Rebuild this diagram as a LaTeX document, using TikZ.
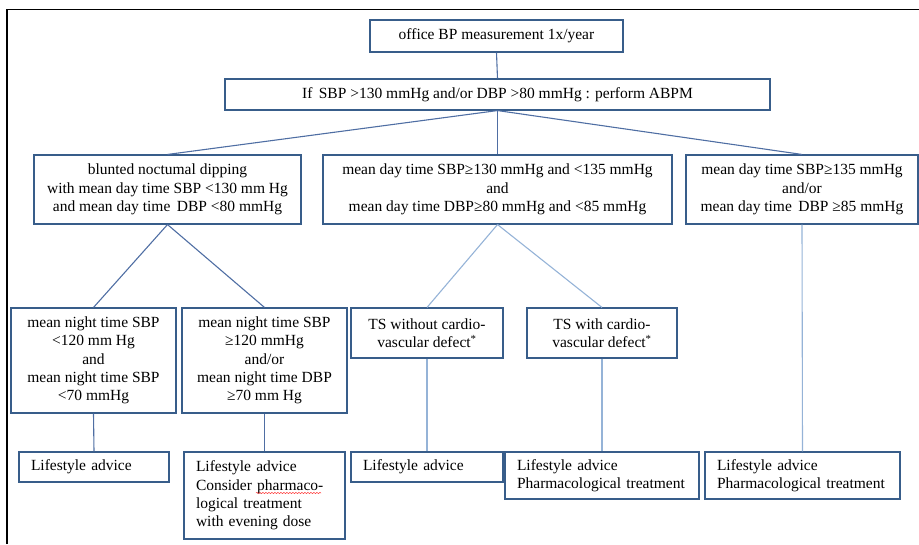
\documentclass[tikz,border=0pt]{standalone}
\usepackage{fontspec}
\setmainfont{Liberation Serif}
\usetikzlibrary{decorations.pathmorphing}
\definecolor{boxline}{HTML}{385D8A}
\definecolor{darkcon}{HTML}{4F6EA3}
\definecolor{lightcon}{HTML}{95B3D7}
\tikzset{
  box/.style={draw=boxline, line width=1.1pt, fill=white, inner sep=0pt, align=center,
    font=\fontsize{15.5}{18.3}\selectfont},
  leftbox/.style={box, align=left, inner xsep=12pt},
  dcon/.style={draw=darkcon, line width=1.1pt},
  lcon/.style={draw=lightcon, line width=1.1pt},
}
\begin{document}
\begin{tikzpicture}[x=1pt,y=-1pt]
\useasboundingbox (0,0) rectangle (919,544);
\draw[black, line width=1.8pt] (7,544) -- (7,9.5) -- (919,9.5);

\node[box, minimum width=253, minimum height=32] (top) at (496.5,36) {office BP measurement 1x/year};
\node[box, minimum width=545, minimum height=31] (abpm) at (497.5,94.5) {If\, SBP >130 mmHg and/or DBP >80 mmHg : perform ABPM};

\node[box, minimum width=267, minimum height=69] (blunt) at (167.5,189.5)
  {blunted noctumal dipping\\with mean day time SBP <130 mm Hg\\and mean day time\, DBP <80 mmHg};
\node[box, minimum width=349, minimum height=69] (mid) at (497.5,189.5)
  {mean day time SBP≥130 mmHg and <135 mmHg\\and\\mean day time DBP≥80 mmHg and <85 mmHg};
\node[box, minimum width=232, minimum height=69] (high) at (802,189.5)
  {mean day time SBP≥135 mmHg\\and/or\\mean day time\, DBP ≥85 mmHg};

\node[box, minimum width=165, minimum height=105] (nlow) at (93.5,360.5)
  {mean night time SBP\\<120 mm Hg\\and\\mean night time SBP\\<70 mmHg};
\node[box, minimum width=165, minimum height=105] (nhigh) at (264.5,360.5)
  {mean night time SBP\\≥120 mmHg\\and/or\\mean night time DBP\\≥70 mm Hg};
\node[box, minimum width=152, minimum height=50] (tsno) at (427,333)
  {TS without cardio-\\vascular defect\textsuperscript{*}};
\node[box, minimum width=150, minimum height=50] (tsyes) at (602,333)
  {TS with cardio-\\vascular defect\textsuperscript{*}};

\node[leftbox, text width=126, minimum height=30] (la) at (94,467) {Lifestyle advice};
\node[leftbox, text width=137, minimum height=87] (lb) at (264.5,495.5)
  {Lifestyle advice\\Consider pharmaco-\\logical treatment\\with evening dose};
\node[leftbox, text width=128, minimum height=30] (lc) at (427,467) {Lifestyle advice};
\node[leftbox, text width=170, minimum height=47] (ld) at (602,475.5)
  {Lifestyle advice\\Pharmacological treatment};
\node[leftbox, text width=171, minimum height=47] (le) at (802.5,475.5)
  {Lifestyle advice\\Pharmacological treatment};

\draw[red!80, line width=0.5pt, decorate, decoration={snake, amplitude=0.6pt, segment length=3pt}]
  (256,493) -- (321,493);

\draw[dcon] (top.south) -- (abpm.north);
\draw[dcon] (abpm.south) -- (blunt.north);
\draw[dcon] (abpm.south) -- (mid.north);
\draw[dcon] (abpm.south) -- (high.north);
\draw[dcon] (blunt.south) -- (nlow.north);
\draw[dcon] (blunt.south) -- (nhigh.north);
\draw[lcon] (mid.south) -- (tsno.north);
\draw[lcon] (mid.south) -- (tsyes.north);
\draw[lcon] (high.south) -- (le.north);
\draw[dcon] (nlow.south) -- (la.north);
\draw[dcon] (nhigh.south) -- (lb.north);
\draw[lcon] (tsno.south) -- (lc.north);
\draw[lcon] (tsyes.south) -- (ld.north);
\end{tikzpicture}
\end{document}
